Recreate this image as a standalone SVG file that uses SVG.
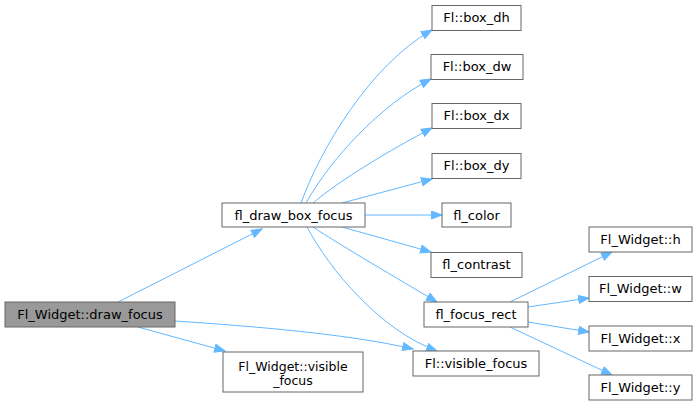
<svg xmlns="http://www.w3.org/2000/svg" width="700" height="405" viewBox="0 0 700 405">
<defs>
<marker id="arr" markerUnits="userSpaceOnUse" markerWidth="13" markerHeight="10" refX="11" refY="4.5" orient="auto">
<path d="M0.5,0.5 L11,4.5 L0.5,8.5 z" fill="#63b8ff" stroke="#63b8ff" stroke-width="1"/>
</marker>
</defs>
<style>
.n rect{fill:#ffffff;stroke:#666666;stroke-width:1}
.n.root rect{fill:#999999}
.n text{font-family:"DejaVu Sans",sans-serif;font-size:13px;text-anchor:middle;fill:#000000}
.n text.s{font-size:12.5px}
#edges path{fill:none;stroke:#63b8ff;stroke-width:1;marker-end:url(#arr)}
</style>
<rect width="700" height="405" fill="#ffffff"/>
<g id="edges">
<path d="M118,302 L262,229"/>
<path d="M138,327 L225,351"/>
<path d="M175,321 C250,326 350,334 413,349"/>
<path d="M301,203 C320,150 370,65 432,30"/>
<path d="M306,203 C330,160 380,105 431,79"/>
<path d="M313,203 C340,180 390,150 432,128"/>
<path d="M342,203 L432,179"/>
<path d="M365,215 L442,215"/>
<path d="M342,227 L431,252"/>
<path d="M313,227 C340,245 400,280 437,302"/>
<path d="M307,227 C330,270 380,330 437,351"/>
<path d="M510,302 L612,252"/>
<path d="M528,307 L589,298"/>
<path d="M528,322 L589,332"/>
<path d="M510,327 L612,375"/>
</g>
<g id="node_draw_focus" class="n root"><rect x="5" y="302" width="170" height="25"/><text x="90" y="319">Fl_Widget::draw_focus</text></g>
<g id="node_fl_draw_box_focus" class="n"><rect x="222" y="203" width="143" height="24"/><text x="293.5" y="219.5">fl_draw_box_focus</text></g>
<g id="node_box_dh" class="n"><rect x="432" y="5.5" width="89" height="25"/><text x="476.5" y="22">Fl::box_dh</text></g>
<g id="node_box_dw" class="n"><rect x="431" y="54.5" width="92" height="25"/><text x="477" y="71">Fl::box_dw</text></g>
<g id="node_box_dx" class="n"><rect x="432" y="103.5" width="89" height="25"/><text x="476.5" y="120">Fl::box_dx</text></g>
<g id="node_box_dy" class="n"><rect x="432" y="153.5" width="89" height="25"/><text x="476.5" y="170">Fl::box_dy</text></g>
<g id="node_fl_color" class="n"><rect x="442" y="203" width="69" height="24"/><text x="476.5" y="219.5">fl_color</text></g>
<g id="node_fl_contrast" class="n"><rect x="431" y="252.5" width="91" height="25"/><text x="476.5" y="269">fl_contrast</text></g>
<g id="node_fl_focus_rect" class="n"><rect x="424" y="302" width="104" height="25"/><text x="476" y="318.5">fl_focus_rect</text></g>
<g id="node_fl_visible_focus" class="n"><rect x="413" y="351" width="126" height="25"/><text x="476" y="367.5">Fl::visible_focus</text></g>
<g id="node_widget_h" class="n"><rect x="589" y="227" width="103" height="25"/><text x="640.5" y="243.5">Fl_Widget::h</text></g>
<g id="node_widget_w" class="n"><rect x="589" y="276.5" width="103" height="25"/><text x="640.5" y="293">Fl_Widget::w</text></g>
<g id="node_widget_x" class="n"><rect x="589" y="326" width="103" height="25"/><text x="640.5" y="342.5">Fl_Widget::x</text></g>
<g id="node_widget_y" class="n"><rect x="589" y="375" width="103" height="25"/><text x="640.5" y="391.5">Fl_Widget::y</text></g>
<g id="node_widget_visible_focus" class="n"><rect x="223" y="352" width="140" height="40"/><text class="s" x="293" y="370.5">Fl_Widget::visible</text><text class="s" x="293" y="385">_focus</text></g>
</svg>
